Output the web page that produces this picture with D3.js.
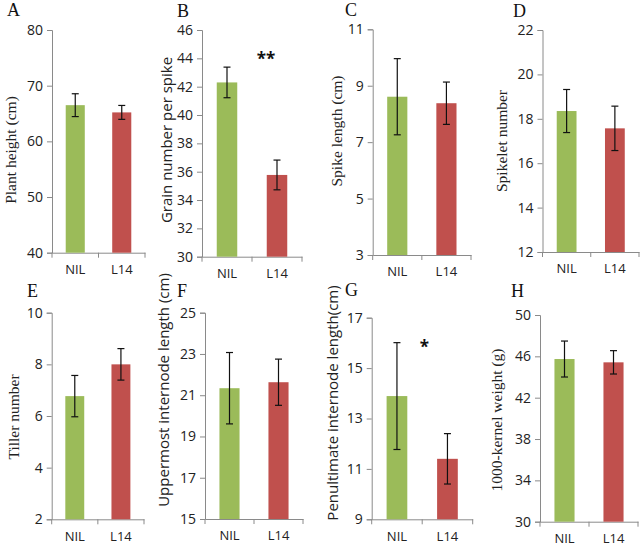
<!DOCTYPE html>
<html>
<head>
<meta charset="utf-8">
<script src="https://cdn.jsdelivr.net/npm/d3@7"></script>
<style>
  html, body { margin: 0; padding: 0; background: #fff; }
  svg { display: block; }
</style>
</head>
<body>
<svg id="chart" width="640" height="550"></svg>
<script>
// ---------- data ----------
const categories = ["NIL", "L14"];
const panelLetters = ["A", "B", "C", "D", "E", "F", "G", "H"];
const yTitles = [
  "Plant height (cm)",
  "Grain number per spike",
  "Spike  length (cm)",
  "Spikelet number",
  "Tiller number",
  "Uppermost internode length (cm)",
  "Penultimate internode length(cm)",
  "1000-kernel weight (g)"
];
const serifTitle = [true, false, true, true, true, false, false, true];
const yMin = [40, 30, 3, 12, 2, 15, 9, 30];
const yMax = [80, 46, 11, 22, 10, 25, 17, 50];
const yStep = [10, 2, 2, 2, 2, 2, 2, 4];
const nilMeans = [66.5, 42.3, 8.61, 18.35, 6.77, 21.34, 13.89, 45.74];
const nilErr   = [2.05, 1.08, 1.35, 0.97, 0.80, 1.73, 2.12, 1.74];
const l14Means = [65.2, 35.77, 8.38, 17.57, 8.0, 21.63, 11.4, 45.42];
const l14Err   = [1.25, 1.05, 0.75, 1.0, 0.61, 1.12, 1.0, 1.13];
const significance = ["", "**", "", "", "", "", "*", ""];
const barColors = ["#9BBB59", "#C0504D"];

// ---------- layout ----------
const frames = [
  {x0: 52,    x1: 145,   y0: 30,    y1: 252.7, lx: 7,   ly: 16,  tx: 11,  ty: 150, sx: 0,   sy: 0},
  {x0: 202,   x1: 302,   y0: 30,    y1: 256.7, lx: 177, ly: 17,  tx: 167, ty: 140, sx: -11, sy: 35},
  {x0: 372.7, x1: 471,   y0: 29.3,  y1: 255,   lx: 345, ly: 16,  tx: 337, ty: 131, sx: 0,   sy: 0},
  {x0: 542.5, x1: 639,   y0: 30,    y1: 252,   lx: 513, ly: 17,  tx: 502, ty: 141, sx: 0,   sy: 0},
  {x0: 51.7,  x1: 144,   y0: 312.7, y1: 519.3, lx: 27,  ly: 297, tx: 14,  ty: 417, sx: 0,   sy: 0},
  {x0: 205,   x1: 303,   y0: 312.7, y1: 519,   lx: 177, ly: 297, tx: 164, ty: 390, sx: 0,   sy: 0},
  {x0: 371.7, x1: 472.7, y0: 317.7, y1: 519.3, lx: 345, ly: 296, tx: 333, ty: 403, sx: -23, sy: 35},
  {x0: 540,   x1: 638,   y0: 315,   y1: 521.7, lx: 511, ly: 297, tx: 497, ty: 420, sx: 0,   sy: 0}
];

const svg = d3.select("#chart");
const axisColor = "#8a8a8a";
const sansFont = "'Open Sans', 'Liberation Sans', sans-serif";
const serifFont = "'Liberation Serif', 'DejaVu Serif', serif";

frames.forEach((f, i) => {
  const g = svg.append("g");
  const x = d3.scaleBand().domain(categories).range([f.x0, f.x1])
    .paddingInner(0.59).paddingOuter(0.295);
  const y = d3.scaleLinear().domain([yMin[i], yMax[i]]).range([f.y1, f.y0]);
  const ticks = d3.range(yMin[i], yMax[i] + yStep[i] / 2, yStep[i]);

  // y axis
  const yAxis = d3.axisLeft(y).tickValues(ticks).tickSize(5).tickPadding(4).tickFormat(d3.format("d"));
  const ya = g.append("g").attr("transform", `translate(${f.x0},0)`).call(yAxis);
  ya.select(".domain").attr("stroke", axisColor).attr("stroke-width", 1);
  ya.selectAll(".tick line").attr("stroke", axisColor);
  ya.selectAll(".tick text").attr("fill", "#222").style("font-family", sansFont).style("font-size", "14px");

  // x axis
  const xa = g.append("g").attr("transform", `translate(0,${f.y1})`)
    .call(d3.axisBottom(x).tickSize(0).tickPadding(12));
  xa.select(".domain").attr("stroke", axisColor).attr("stroke-width", 1);
  xa.selectAll(".tick text").attr("fill", "#222").style("font-family", sansFont).style("font-size", "13px");
  // x tick marks at band boundaries
  const bounds = [f.x0, (f.x0 + f.x1) / 2, f.x1];
  g.selectAll(".xtick").data(bounds).enter().append("line")
    .attr("x1", d => d).attr("x2", d => d)
    .attr("y1", f.y1).attr("y2", f.y1 + 5)
    .attr("stroke", axisColor);

  // bars
  const means = [nilMeans[i], l14Means[i]];
  const errs = [nilErr[i], l14Err[i]];
  g.selectAll(".bar").data(categories).enter().append("rect")
    .attr("x", d => x(d))
    .attr("width", x.bandwidth())
    .attr("y", (d, j) => y(means[j]))
    .attr("height", (d, j) => f.y1 - y(means[j]))
    .attr("fill", (d, j) => barColors[j]);

  // error bars
  const cap = 3.5;
  categories.forEach((c, j) => {
    const cx = x(c) + x.bandwidth() / 2;
    const top = y(means[j] + errs[j]);
    const bot = y(means[j] - errs[j]);
    g.append("line").attr("x1", cx).attr("x2", cx).attr("y1", top).attr("y2", bot)
      .attr("stroke", "#111").attr("stroke-width", 1.2);
    [top, bot].forEach(yy => {
      g.append("line").attr("x1", cx - cap).attr("x2", cx + cap).attr("y1", yy).attr("y2", yy)
        .attr("stroke", "#111").attr("stroke-width", 1.2);
    });
  });

  // significance
  if (significance[i]) {
    const sx = x("L14") + x.bandwidth() / 2 + f.sx;
    const sy = f.y0 + f.sy;
    g.append("text").attr("x", sx).attr("y", sy)
      .attr("text-anchor", "middle")
      .style("font-family", sansFont).style("font-weight", "bold").style("font-size", "17px")
      .attr("fill", "#111").text(significance[i]);
  }

  // panel letter
  g.append("text").attr("x", f.lx).attr("y", f.ly)
    .style("font-family", serifFont).style("font-size", "18px").attr("fill", "#111")
    .text(panelLetters[i]);

  // y title
  g.append("text")
    .attr("transform", `translate(${f.tx},${f.ty}) rotate(-90)`)
    .attr("text-anchor", "middle").attr("dy", "0.35em")
    .style("font-family", serifTitle[i] ? serifFont : sansFont)
    .style("font-size", serifTitle[i] ? "15.5px" : "15px")
    .attr("fill", "#222")
    .text(yTitles[i]);
});
</script>
</body>
</html>
